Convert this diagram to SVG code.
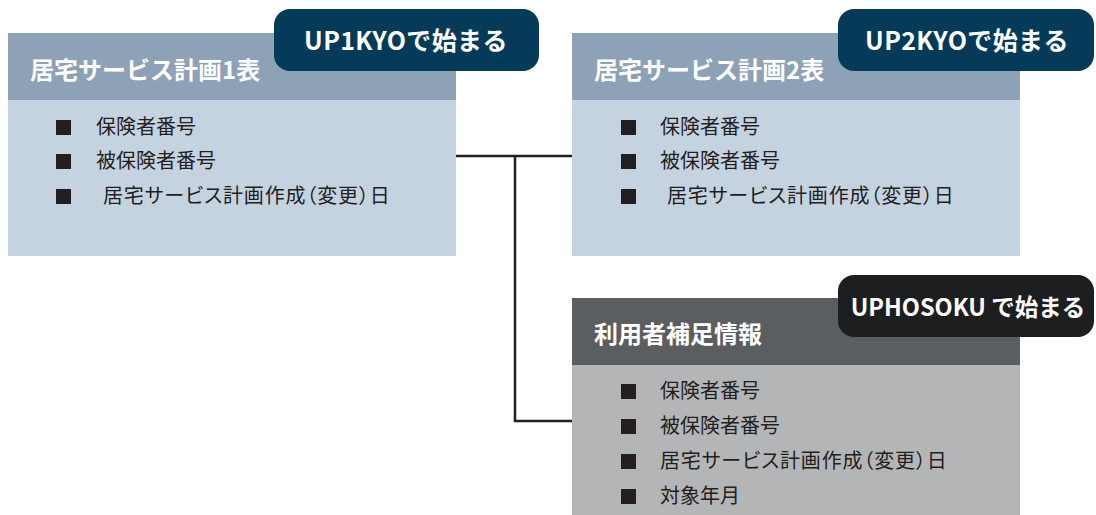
<svg xmlns="http://www.w3.org/2000/svg" width="1096" height="515" viewBox="0 0 1096 515">
<style>
.hdrA{fill:#8da1b7}
.bodyA{fill:#c5d2e0}
.hdrB{fill:#5b5e60}
.bodyB{fill:#b4b5b7}
.tagA{fill:#063a59}
.tagB{fill:#1d1e20}
.ttl{font-family:"Noto Sans CJK JP","Noto Sans",sans-serif;font-weight:bold;font-size:24px;fill:#ffffff}
.tag{font-family:"Noto Sans CJK JP","Noto Sans",sans-serif;font-weight:bold;font-size:25px;fill:#ffffff;letter-spacing:0.4px}
.tag3{font-family:"Noto Sans CJK JP","Noto Sans",sans-serif;font-weight:bold;font-size:23.5px;fill:#ffffff}
.item{font-family:"Noto Sans CJK JP","Noto Sans",sans-serif;font-size:20px;fill:#231f20;font-feature-settings:"palt"}
.wide{letter-spacing:0.85px}
.bul{fill:#231f20}
.conn{fill:none;stroke:#231f20;stroke-width:2.5}
</style>
<rect width="1096" height="515" fill="#ffffff"/>
<g id="connectors">
<path class="conn" d="M456,156 H572"/>
<path class="conn" d="M515,156 V421 H572"/>
</g>
<g id="node-plan1">
<rect class="bodyA" x="8" y="100" width="448" height="156"/>
<rect class="hdrA" x="8" y="33" width="448" height="67"/>
<text class="ttl" x="30" y="79">居宅サービス計画1表</text>
<rect class="tagA" x="274" y="9" width="265" height="62" rx="16"/>
<text class="tag" x="406" y="50" text-anchor="middle">UP1KYOで始まる</text>
<rect class="bul" x="56" y="120" width="15" height="15"/>
<text class="item" x="96" y="134">保険者番号</text>
<rect class="bul" x="56" y="154" width="15" height="15"/>
<text class="item" x="96" y="168">被保険者番号</text>
<rect class="bul" x="56" y="189" width="15" height="15"/>
<text class="item wide" x="103" y="203">居宅サービス計画作成（変更）日</text>
</g>
<g id="node-plan2">
<rect class="bodyA" x="572" y="100" width="448" height="156"/>
<rect class="hdrA" x="572" y="33" width="448" height="67"/>
<text class="ttl" x="594" y="79">居宅サービス計画2表</text>
<rect class="tagA" x="838" y="9" width="256" height="62" rx="16"/>
<text class="tag" x="967" y="50" text-anchor="middle">UP2KYOで始まる</text>
<rect class="bul" x="621" y="120" width="15" height="15"/>
<text class="item" x="660" y="134">保険者番号</text>
<rect class="bul" x="621" y="154" width="15" height="15"/>
<text class="item" x="660" y="168">被保険者番号</text>
<rect class="bul" x="621" y="189" width="15" height="15"/>
<text class="item wide" x="667" y="203">居宅サービス計画作成（変更）日</text>
</g>
<g id="node-user">
<rect class="bodyB" x="572" y="365" width="448" height="150"/>
<rect class="hdrB" x="572" y="298" width="448" height="67"/>
<text class="ttl" x="594" y="343">利用者補足情報</text>
<rect class="tagB" x="838" y="275" width="256" height="62" rx="16"/>
<text class="tag3" x="968" y="316" text-anchor="middle">UPHOSOKU で始まる</text>
<rect class="bul" x="621" y="384" width="15" height="15"/>
<text class="item" x="660" y="398">保険者番号</text>
<rect class="bul" x="621" y="419" width="15" height="15"/>
<text class="item" x="660" y="433">被保険者番号</text>
<rect class="bul" x="621" y="454" width="15" height="15"/>
<text class="item wide" x="660" y="468">居宅サービス計画作成（変更）日</text>
<rect class="bul" x="621" y="489" width="15" height="15"/>
<text class="item" x="660" y="503">対象年月</text>
</g>
</svg>
